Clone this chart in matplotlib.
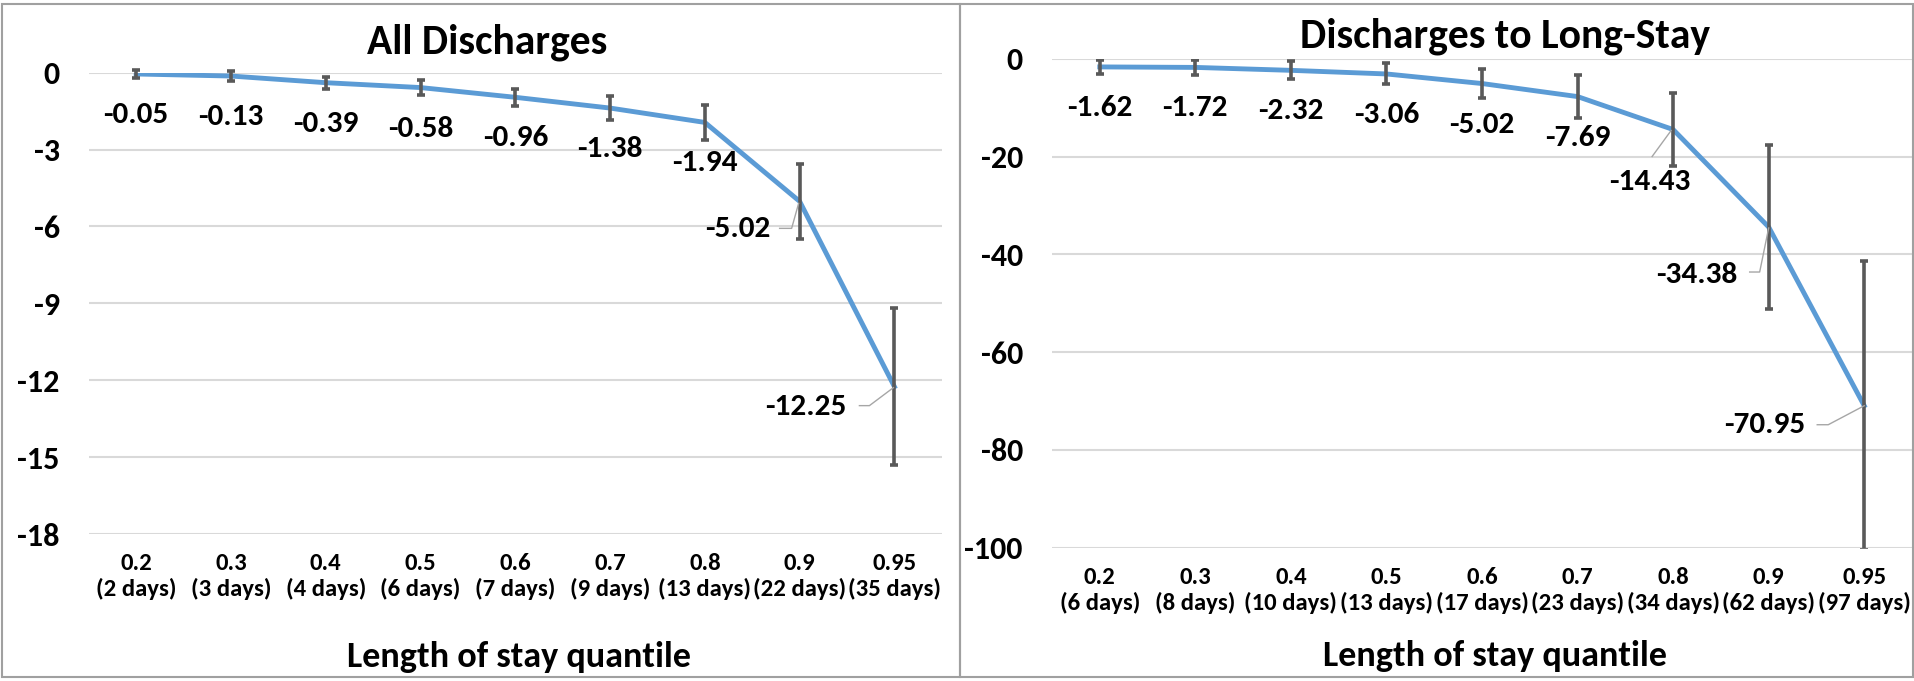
import matplotlib
matplotlib.use("Agg")
import matplotlib.pyplot as plt
from matplotlib import font_manager
from matplotlib.lines import Line2D
from matplotlib.patches import Rectangle

# ---------------- data ----------------
quantiles = ["0.2", "0.3", "0.4", "0.5", "0.6", "0.7", "0.8", "0.9", "0.95"]
days_all = ["2 days", "3 days", "4 days", "6 days", "7 days", "9 days", "13 days", "22 days", "35 days"]
days_long = ["6 days", "8 days", "10 days", "13 days", "17 days", "23 days", "34 days", "62 days", "97 days"]

all_values = [-0.05, -0.13, -0.39, -0.58, -0.96, -1.38, -1.94, -5.02, -12.25]
all_errors = [0.15, 0.21, 0.23, 0.29, 0.34, 0.47, 0.67, 1.47, 3.07]

long_values = [-1.62, -1.72, -2.32, -3.06, -5.02, -7.69, -14.43, -34.38, -70.95]
long_errors = [1.45, 1.47, 1.85, 2.15, 2.9, 4.37, 7.5, 16.7, 29.6]

all_yticks = [0, -3, -6, -9, -12, -15, -18]
long_yticks = [0, -20, -40, -60, -80, -100]

# ---------------- fonts ----------------
names = {f.name for f in font_manager.fontManager.ttflist}
if "Carlito" in names:
    FONT, K = "Carlito", 1.0
elif "Liberation Sans Narrow" in names:
    FONT, K = "Liberation Sans Narrow", 0.9
else:
    FONT, K = "DejaVu Sans", 0.82
plt.rcParams["font.family"] = [FONT, "DejaVu Sans"]
plt.rcParams["font.weight"] = "bold"

W, H = 1915, 681
fig = plt.figure(figsize=(W / 100, H / 100), dpi=100)
fig.patch.set_facecolor("white")

LINE_C = "#5B9BD5"
ERR_C = "#595959"
GRID_C = "#D9D9D9"
LEAD_C = "#A6A6A6"

FS_TICK_Y = 23 * K
FS_TICK_X = 17.8 * K
FS_LABEL = 22.5 * K
FS_TITLE = 30 * K
FS_XLABEL = 26 * K


def px_rect(x0, top, x1, bottom):
    return [x0 / W, 1 - bottom / H, (x1 - x0) / W, (bottom - top) / H]


# panel frames
for (x0, x1) in [(2, 960), (960, 1913)]:
    fig.patches.append(Rectangle((x0 / W, 4 / H), (x1 - x0) / W, (H - 8) / H,
                                 transform=fig.transFigure, fill=False,
                                 edgecolor="#A0A0A0", linewidth=1.5))


def panel(rect, values, errors, days, yticks, ylim, title, title_xy, xlabel_xy,
          label_offsets, leaders, clip):
    ax = fig.add_axes(rect)
    x = list(range(len(values)))
    ax.set_xlim(-0.5, len(values) - 0.5)
    ax.set_ylim(*ylim)
    ax.set_yticks(yticks)
    ax.set_yticklabels([str(t) for t in yticks])
    ax.set_xticks(x)
    ax.set_xticklabels([f"{q}\n({d})" for q, d in zip(quantiles, days)],
                       linespacing=1.22)
    for s in ax.spines.values():
        s.set_visible(False)
    ax.grid(axis="y", color=GRID_C, linewidth=1.5)
    ax.set_axisbelow(True)
    ax.tick_params(axis="y", length=0, pad=21, labelsize=FS_TICK_Y)
    ax.tick_params(axis="x", length=0, pad=14, labelsize=FS_TICK_X)
    ax.plot(x, values, color=LINE_C, linewidth=3.5, solid_joinstyle="round", zorder=3)
    eb = ax.errorbar(x, values, yerr=errors, fmt="none", ecolor=ERR_C,
                     elinewidth=2.6, capsize=3.2, capthick=2.6, zorder=4)
    for art in eb.lines[1] + eb.lines[2]:
        art.set_clip_on(clip)
    fig.canvas.draw()
    for i, v in enumerate(values):
        dx, dy = label_offsets[i]
        ax.annotate(f"{v:.2f}", xy=(i, v), xytext=(dx, -dy),
                    textcoords="offset pixels", ha="center", va="center",
                    fontsize=FS_LABEL, fontweight="bold", color="black",
                    annotation_clip=False, zorder=5)
        if i in leaders:
            px, py = ax.transData.transform((i, v))
            xs = [px + p[0] for p in leaders[i]]
            ys = [py - p[1] for p in leaders[i]]
            fig.lines.append(Line2D(xs, ys, transform=None, color=LEAD_C,
                                    linewidth=1.0, zorder=6))
    fig.text(title_xy[0] / W, 1 - title_xy[1] / H, title, ha="center",
             va="center", fontsize=FS_TITLE, fontweight="bold")
    fig.text(xlabel_xy[0] / W, 1 - xlabel_xy[1] / H, "Length of stay quantile",
             ha="center", va="center", fontsize=FS_XLABEL, fontweight="bold")
    return ax


below = (0, 41)
left_offsets = [below] * 7 + [(-62, 28), (-89, 20)]
left_leaders = {7: [(-20, 27), (-8, 27), (-1, 2)],
                8: [(-35, 19), (-25, 19), (-1, 1)]}
panel(px_rect(88.8, 72.7, 941.8, 534), all_values, all_errors, days_all,
      all_yticks, (-18, 0), "All Discharges", (487, 42), (519, 657),
      left_offsets, left_leaders, False)

right_offsets = [below] * 6 + [(-23, 52), (-72, 48), (-99, 19)]
right_leaders = {6: [(-21, 27), (-2, 1)],
                 7: [(-19, 45), (-9, 45), (0, 1)],
                 8: [(-47, 19), (-36, 19), (0, 0)]}
panel(px_rect(1052, 59, 1912, 547.7), long_values, long_errors, days_long,
      long_yticks, (-100, 0), "Discharges to Long-Stay", (1505, 36), (1495, 656),
      right_offsets, right_leaders, True)

fig.savefig("out.png", dpi=100)
